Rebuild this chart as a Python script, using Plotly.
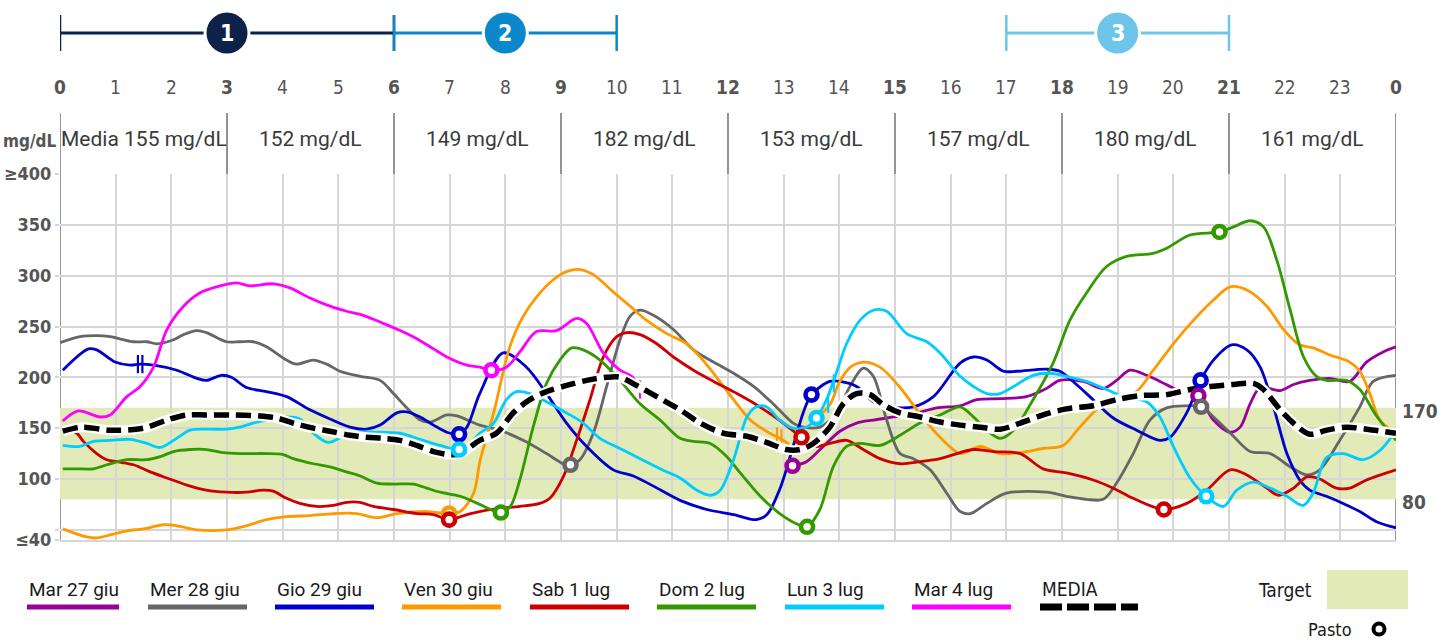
import plotly.graph_objects as go

# ---------------- data ----------------
hour_labels = ["0", "1", "2", "3", "4", "5", "6", "7", "8", "9", "10", "11", "12",
               "13", "14", "15", "16", "17", "18", "19", "20", "21", "22", "23", "0"]
block_labels = ["Media 155 mg/dL", "152 mg/dL", "149 mg/dL", "182 mg/dL",
                "153 mg/dL", "157 mg/dL", "180 mg/dL", "161 mg/dL"]
ytick_vals = [40, 50, 100, 150, 200, 250, 300, 350, 400]
ytick_text = ["≤40", "", "100", "150", "200", "250", "300", "350", "≥400"]
target_low, target_high = 80, 170

period_labels = ["1", "2", "3"]
period_start = [0, 6, 17]
period_end = [6, 10, 21]
period_mid = [3, 8, 19]
period_colors = ["#0c2248", "#0b88cb", "#6dc5ea"]

series_names = ["Mar 27 giu", "Mer 28 giu", "Gio 29 giu", "Ven 30 giu",
                "Sab 1 lug", "Dom 2 lug", "Lun 3 lug", "Mar 4 lug"]
series_colors = ["#990099", "#666666", "#0000cc", "#ff9900",
                 "#cc0000", "#339900", "#00ccff", "#ff00ff"]

mar27_h = [13.16, 13.41, 13.71, 14.01, 14.31, 14.61, 14.97, 15.33, 15.75, 16.17, 16.47, 16.89,
           17.36, 17.72, 17.96, 18.38, 18.74, 18.98, 19.22, 19.52, 19.76, 20.06, 20.3, 20.45,
           20.72, 21.02, 21.2, 21.38, 21.56, 21.92, 22.16, 22.45, 22.81, 23.17, 23.47, 23.77, 24.0]
mar27_v = [113, 117, 132, 147, 155, 158, 161, 164, 170, 172, 178, 179,
           181, 189, 197, 196, 189, 197, 207, 202, 196, 188, 185, 182,
           158, 146, 151, 174, 190, 187, 193, 197, 199, 196, 215, 225, 230]

mer28_h = [0.0, 0.36, 0.66, 0.9, 1.32, 1.56, 1.74, 2.04, 2.22, 2.46, 2.63, 2.99, 3.23, 3.47,
           3.71, 4.07, 4.25, 4.55, 4.79, 5.03, 5.39, 5.75, 5.99, 6.23, 6.47, 6.65, 6.95, 7.13,
           7.54, 7.9, 8.32, 8.74, 9.04, 9.17, 9.34, 9.58, 9.82, 10.06, 10.24, 10.42, 10.66,
           11.02, 11.38, 11.74, 12.1, 12.46, 12.81, 13.17, 13.35, 13.65, 13.95, 14.19, 14.43,
           14.61, 14.85, 15.09, 15.33, 15.63, 15.93, 16.17, 16.35, 16.65, 17.0, 17.72, 18.08,
           18.44, 18.74, 18.98, 19.28, 19.58, 19.88, 20.24, 20.5, 20.78, 21.08, 21.38, 21.74,
           22.1, 22.4, 22.63, 22.99, 23.35, 23.59, 24.0]
mer28_v = [234, 240, 241, 240, 235, 235, 233, 237, 242, 246, 244, 235, 235, 235,
           230, 217, 213, 217, 213, 206, 201, 197, 184, 170, 158, 156, 163, 162,
           153, 148, 138, 125, 115, 114, 119, 145, 191, 237, 260, 266, 261,
           247, 227, 215, 204, 191, 174, 155, 151, 151, 165, 191, 209,
           201, 158, 125, 120, 109, 86, 68, 66, 76, 86, 87, 83,
           80, 80, 96, 125, 158, 170, 172, 171, 158, 142, 127, 125,
           112, 104, 109, 138, 171, 196, 202]

gio29_h = [0.05, 0.51, 0.66, 0.99, 1.26, 1.44, 1.68, 2.1, 2.46, 2.63, 2.9, 3.08, 3.35, 3.71,
           4.07, 4.49, 4.85, 5.21, 5.51, 5.75, 6.05, 6.23, 6.47, 6.71, 6.95, 7.17, 7.31, 7.54,
           7.96, 8.38, 8.74, 9.1, 9.46, 9.94, 10.3, 10.66, 11.14, 11.62, 12.1, 12.51, 12.7,
           12.93, 13.17, 13.35, 13.5, 13.83, 14.01, 14.31, 14.61, 14.91, 15.33, 15.69, 16.17,
           16.41, 16.65, 16.95, 17.19, 17.72, 17.96, 18.26, 18.56, 18.92, 19.34, 19.76, 19.94,
           20.24, 20.49, 20.72, 21.05, 21.32, 21.56, 21.8, 22.04, 22.27, 22.45, 22.75, 23.05,
           23.35, 23.65, 24.0]
gio29_v = [207, 228, 227, 215, 212, 213, 212, 207, 199, 197, 202, 200, 190, 186,
           181, 168, 159, 151, 149, 153, 165, 166, 161, 153, 146, 144, 151, 184,
           224, 210, 184, 155, 132, 109, 103, 93, 79, 70, 65, 60, 65,
           90, 132, 165, 183, 196, 196, 191, 176, 171, 171, 181, 214,
           220, 217, 206, 206, 208, 206, 193, 178, 160, 148, 138, 141,
           165, 197, 217, 232, 227, 210, 171, 125, 99, 89, 83, 76,
           68, 58, 52]

ven30_a_h = [0.05, 0.48, 0.66, 0.9, 1.2, 1.5, 1.86, 2.1, 2.46, 2.99, 3.35, 3.71, 4.07, 4.49,
             4.91, 5.33, 5.69, 6.05, 6.59, 6.99, 7.19, 7.43, 7.55, 7.79, 8.08, 8.32, 8.56,
             8.86, 9.1, 9.34, 9.58, 9.94, 10.24, 10.54, 10.9, 11.26, 11.5, 11.74, 12.1, 12.4,
             12.75, 12.93, 13.1]
ven30_a_v = [51, 43, 42, 45, 49, 51, 55, 54, 50, 50, 54, 60, 63, 64,
             66, 66, 62, 66, 68, 66, 68, 86, 119, 165, 230, 260, 279,
             296, 304, 306, 301, 284, 270, 256, 243, 233, 220, 204, 178, 158,
             145, 140, 134]
ven30_b_h = [13.7, 13.85, 14.0, 14.2, 14.43, 14.73, 15.09, 15.45, 15.81, 16.17, 16.53, 16.89,
             17.25, 17.66, 18.02, 18.32, 18.68, 19.04, 19.34, 19.64, 20.0, 20.36, 20.72, 21.02,
             21.32, 21.68, 21.98, 22.27, 22.51, 22.81, 23.17, 23.35, 23.53, 23.71, 24.0]
ven30_b_v = [165, 175, 195, 210, 215, 210, 190, 164, 141, 125, 132, 125,
             126, 130, 133, 151, 171, 179, 186, 207, 233, 256, 276, 289,
             286, 270, 247, 232, 229, 222, 215, 206, 184, 158, 145]

sab1_h = [0.05, 0.3, 0.42, 0.66, 0.84, 1.02, 1.32, 1.62, 1.92, 2.28, 2.63, 2.99, 3.35, 3.65,
          3.83, 4.07, 4.31, 4.61, 4.91, 5.15, 5.39, 5.63, 5.99, 6.41, 6.71, 6.99, 7.31, 7.54,
          7.9, 8.26, 8.62, 8.8, 9.04, 9.28, 9.52, 9.76, 10.0, 10.18, 10.42, 10.72, 11.02,
          11.38, 11.74, 12.16, 12.51, 12.87, 13.32, 13.53, 13.83, 14.13, 14.43, 14.73, 15.09,
          15.45, 15.81, 16.17, 16.41, 16.77, 17.25, 17.66, 18.08, 18.56, 18.92, 19.28, 19.83,
          20.24, 20.6, 21.02, 21.32, 21.68, 21.89, 22.16, 22.4, 22.63, 22.93, 23.17, 23.47, 24.0]
sab1_v = [149, 145, 137, 125, 119, 117, 114, 107, 101, 94, 89, 87, 87, 89,
          88, 81, 76, 73, 74, 77, 77, 73, 70, 66, 65, 60, 65, 68,
          71, 73, 76, 81, 102, 138, 178, 220, 240, 244, 242, 233, 220,
          207, 196, 184, 173, 160, 141, 132, 135, 138, 129, 120, 115,
          117, 120, 126, 129, 127, 125, 110, 106, 99, 91, 81, 70,
          76, 89, 109, 104, 91, 84, 91, 102, 100, 91, 91, 99, 109]

dom2_h = [0.05, 0.3, 0.6, 0.84, 1.2, 1.56, 1.8, 2.04, 2.34, 2.63, 2.93, 3.23, 3.71, 4.01,
          4.19, 4.55, 4.85, 5.15, 5.39, 5.69, 5.99, 6.35, 6.59, 6.83, 7.19, 7.54, 7.92, 8.09,
          8.26, 8.5, 8.74, 8.98, 9.19, 9.4, 9.7, 10.06, 10.42, 10.78, 11.14, 11.38, 11.68,
          11.98, 12.22, 12.58, 12.93, 13.23, 13.42, 13.65, 13.89, 14.13, 14.37, 14.73, 15.09,
          15.45, 15.81, 16.17, 16.41, 16.65, 16.89, 17.13, 17.48, 17.84, 18.14, 18.44, 18.8,
          19.16, 19.64, 19.88, 20.3, 20.83, 21.08, 21.38, 21.62, 21.86, 22.1, 22.34, 22.57,
          22.75, 23.11, 23.35, 23.65, 24.0]
dom2_v = [110, 110, 110, 114, 119, 119, 122, 127, 129, 129, 126, 125, 125, 124,
          120, 115, 112, 107, 103, 96, 95, 95, 91, 87, 83, 75, 67, 73,
          99, 151, 194, 217, 229, 227, 217, 197, 174, 158, 140, 137, 135,
          122, 106, 83, 66, 56, 53, 70, 112, 132, 135, 133, 143,
          155, 163, 171, 161, 148, 140, 148, 178, 214, 256, 283, 309,
          319, 322, 327, 340, 343, 348, 354, 348, 315, 266, 220, 201,
          197, 197, 188, 162, 138]

lun3_h = [0.05, 0.36, 0.6, 0.9, 1.26, 1.56, 1.8, 2.04, 2.34, 2.69, 2.99, 3.23, 3.47, 3.71,
          4.07, 4.31, 4.55, 4.82, 5.09, 5.39, 5.81, 6.11, 6.47, 6.83, 7.17, 7.37, 7.54, 7.79,
          8.02, 8.2, 8.44, 8.74, 9.1, 9.4, 9.7, 10.06, 10.42, 10.78, 11.14, 11.44, 11.68,
          11.86, 12.1, 12.34, 12.51, 12.69, 12.93, 13.17, 13.41, 13.59, 13.77, 13.95, 14.13,
          14.37, 14.61, 14.85, 15.21, 15.57, 15.81, 16.17, 16.41, 16.65, 16.89, 17.13, 17.48,
          17.78, 18.08, 18.44, 18.8, 19.16, 19.52, 19.76, 20.0, 20.3, 20.59, 20.9, 21.14,
          21.44, 21.74, 22.04, 22.33, 22.51, 22.75, 23.05, 23.41, 23.71, 24.0]
lun3_v = [133, 132, 137, 138, 139, 135, 131, 138, 148, 149, 149, 151, 155, 158,
          161, 159, 145, 136, 142, 146, 146, 145, 139, 133, 129, 135, 145, 155,
          178, 186, 184, 176, 165, 155, 140, 130, 120, 110, 101, 89, 84,
          89, 119, 161, 171, 171, 158, 150, 151, 160, 178, 205, 233,
          256, 266, 265, 243, 235, 224, 201, 191, 184, 184, 191, 202,
          204, 201, 196, 188, 180, 176, 161, 132, 101, 83, 73, 89,
          97, 91, 83, 74, 86, 121, 125, 119, 128, 148]

mar4_h = [0.05, 0.33, 0.72, 0.9, 1.2, 1.44, 1.68, 1.92, 2.22, 2.51, 2.81, 3.17, 3.41, 3.83,
          4.13, 4.49, 4.85, 5.15, 5.45, 5.81, 6.11, 6.41, 6.71, 6.95, 7.31, 7.54, 7.75, 8.02,
          8.26, 8.56, 8.92, 9.28, 9.46, 9.76, 10.06, 10.27, 10.4]
mar4_v = [157, 167, 161, 163, 181, 191, 210, 247, 270, 283, 289, 293, 290, 292,
          288, 278, 270, 265, 261, 253, 246, 238, 228, 220, 212, 210, 207, 210,
          225, 245, 246, 258, 253, 224, 207, 201, 190]

media_h = [0.05, 0.4, 0.9, 1.5, 1.92, 2.28, 2.63, 3.11, 3.59, 3.89, 4.19, 4.55, 4.85, 5.21,
           5.51, 5.81, 6.11, 6.41, 6.71, 7.01, 7.19, 7.54, 7.84, 8.14, 8.44, 8.74, 9.1, 9.46,
           9.82, 10.06, 10.36, 10.72, 11.14, 11.5, 11.92, 12.34, 12.69, 13.05, 13.29, 13.53,
           13.83, 14.07, 14.31, 14.55, 14.79, 15.09, 15.45, 15.81, 16.17, 16.53, 16.89, 17.25,
           17.66, 18.08, 18.56, 18.98, 19.4, 19.88, 20.3, 20.66, 21.08, 21.44, 21.62, 21.92,
           22.22, 22.45, 22.75, 23.11, 23.47, 24.0]
media_v = [147, 151, 148, 150, 158, 163, 163, 163, 162, 160, 155, 150, 147, 143,
           141, 140, 138, 133, 127, 124, 125, 138, 145, 165, 178, 186, 192, 197,
           200, 200, 192, 181, 168, 155, 145, 142, 136, 129, 129, 135,
           151, 174, 184, 183, 173, 165, 161, 156, 153, 151, 149, 155,
           163, 169, 172, 178, 182, 183, 188, 191, 193, 194, 188, 168,
           152, 144, 148, 151, 149, 145]

# meals (Pasto) per day
mar27_meal_h, mar27_meal_v = [13.16, 20.45], [113, 182]
mer28_meal_h, mer28_meal_v = [9.17, 20.5], [114, 171]
gio29_meal_h, gio29_meal_v = [7.17, 13.5, 20.49], [144, 183, 197]
ven30_meal_h, ven30_meal_v = [6.99], [66]
sab1_meal_h, sab1_meal_v = [6.99, 13.32, 19.83], [60, 141, 70]
dom2_meal_h, dom2_meal_v = [7.92, 13.42, 20.83], [67, 53, 343]
lun3_meal_h, lun3_meal_v = [7.17, 13.59, 20.59], [129, 160, 83]
mar4_meal_h, mar4_meal_v = [7.75], [207]

# sensor gap marks (||)
gap_h = [1.40, 1.48, 12.88, 12.96, 13.8, 13.9, 10.42]
gap_v = [213, 213, 142, 140, 174, 194, 188]
gap_colors = ["#0000cc", "#0000cc", "#ff9900", "#ff9900", "#00ccff", "#00ccff", "#ff00ff"]

# ---------------- geometry helpers ----------------
W, H = 1442, 641
ML, MR, MT, MB = 60, 46, 174, 101
PW, PH = W - ML - MR, H - MT - MB


def yp(px):
    return (H - MB - px) / PH


def xp(px):
    return (px - ML) / PW


FN = "Liberation Sans Narrow, DejaVu Sans Condensed, sans-serif"
FR = "Roboto, Liberation Sans, sans-serif"
GRAY_TXT = "#555555"

fig = go.Figure()

# target band
fig.add_shape(type="rect", xref="x", yref="y", x0=0, x1=24, y0=target_low, y1=target_high,
              fillcolor="#e2eab8", line_width=0, layer="below")

# dark 3-hour separators
for h in range(0, 25, 3):
    fig.add_shape(type="line", xref="x", yref="paper", x0=h, x1=h, y0=0, y1=yp(113),
                  line=dict(color="#7a7a7a", width=1.6), layer="between")

# day lines
day_data = [
    (mar27_h, mar27_v), (mer28_h, mer28_v), (gio29_h, gio29_v), (ven30_a_h, ven30_a_v),
    (sab1_h, sab1_v), (dom2_h, dom2_v), (lun3_h, lun3_v), (mar4_h, mar4_v),
]
LW = 2.8
for i, (hh, vv) in enumerate(day_data):
    fig.add_trace(go.Scatter(x=hh, y=vv, mode="lines", name=series_names[i],
                             line=dict(color=series_colors[i], width=LW, shape="spline", smoothing=0.9),
                             hoverinfo="skip", showlegend=False))
    if i == 3:
        fig.add_trace(go.Scatter(x=ven30_b_h, y=ven30_b_v, mode="lines", name=series_names[i],
                                 line=dict(color=series_colors[i], width=LW, shape="spline", smoothing=0.9),
                                 hoverinfo="skip", showlegend=False))

# gap marks
fig.add_trace(go.Scatter(x=gap_h, y=gap_v, mode="markers", hoverinfo="skip", showlegend=False,
                         marker=dict(symbol="line-ns", size=13, color=gap_colors,
                                     line=dict(color=gap_colors, width=2.2))))

# media line (white halo + black dashes)
fig.add_trace(go.Scatter(x=media_h, y=media_v, mode="lines", hoverinfo="skip", showlegend=False,
                         line=dict(color="white", width=10, shape="spline", smoothing=0.9)))
fig.add_trace(go.Scatter(x=media_h, y=media_v, mode="lines", name="MEDIA", hoverinfo="skip",
                         showlegend=False,
                         line=dict(color="black", width=5.5, shape="spline", smoothing=0.9,
                                   dash="15px,7px")))

# meals
meal_data = [
    (mar27_meal_h, mar27_meal_v), (mer28_meal_h, mer28_meal_v), (gio29_meal_h, gio29_meal_v),
    (ven30_meal_h, ven30_meal_v), (sab1_meal_h, sab1_meal_v), (dom2_meal_h, dom2_meal_v),
    (lun3_meal_h, lun3_meal_v), (mar4_meal_h, mar4_meal_v),
]
for i, (hh, vv) in enumerate(meal_data):
    fig.add_trace(go.Scatter(x=hh, y=vv, mode="markers", hoverinfo="skip", showlegend=False,
                             marker=dict(symbol="circle", size=12, color="white",
                                         line=dict(color=series_colors[i], width=4.6))))

annotations = []

# hour labels
for i, lab in enumerate(hour_labels):
    annotations.append(dict(x=i, y=yp(87), xref="x", yref="paper", text=lab, showarrow=False,
                            xanchor="center", yanchor="middle",
                            font=dict(family=FN, size=19, color=GRAY_TXT,
                                      weight="bold" if i % 3 == 0 else "normal")))

# block averages
for k, lab in enumerate(block_labels):
    annotations.append(dict(x=3 * k + 1.5, y=yp(139), xref="x", yref="paper", text=lab,
                            showarrow=False, xanchor="center", yanchor="middle",
                            font=dict(family=FR, size=21, color="#3a3a3a")))
annotations.append(dict(x=xp(58), y=yp(141), xref="paper", yref="paper", text="mg/dL",
                        showarrow=False, xanchor="right", yanchor="middle",
                        font=dict(family=FN, size=17, color=GRAY_TXT, weight="bold")))

# target labels on the right
for val in (target_high, target_low):
    annotations.append(dict(x=xp(1400), y=val, xref="paper", yref="y", text=str(val),
                            showarrow=False, xanchor="left", yanchor="middle", yshift=-3,
                            font=dict(family=FN, size=19, color=GRAY_TXT, weight="bold")))

# periods on top
for k in range(len(period_labels)):
    c = period_colors[k]
    fig.add_shape(type="line", xref="x", yref="paper", x0=period_start[k], x1=period_end[k],
                  y0=yp(33), y1=yp(33), line=dict(color=c, width=3))
    for xe in (period_start[k], period_end[k]):
        fig.add_shape(type="line", xref="x", yref="paper", x0=xe, x1=xe, y0=yp(15), y1=yp(51),
                      line=dict(color=c, width=2.5))
    fig.add_shape(type="circle", xref="x", yref="paper", xsizemode="pixel", ysizemode="pixel",
                  xanchor=period_mid[k], yanchor=yp(33), x0=-22, x1=22, y0=-22, y1=22,
                  fillcolor=c, line=dict(color="white", width=3))
    annotations.append(dict(x=period_mid[k], y=yp(33), xref="x", yref="paper",
                            text=period_labels[k], showarrow=False, xanchor="center",
                            yanchor="middle",
                            font=dict(family=FN, size=23, color="white", weight="bold")))

# custom legend
leg_x = [27, 148, 275, 402, 530, 657, 785, 912]
for i, nm in enumerate(series_names):
    w = 92 if i == 0 else 99
    fig.add_shape(type="line", xref="paper", yref="paper", x0=xp(leg_x[i]), x1=xp(leg_x[i] + w),
                  y0=yp(607), y1=yp(607), line=dict(color=series_colors[i], width=5))
    annotations.append(dict(x=xp(leg_x[i]), y=yp(589), xref="paper", yref="paper", text=nm,
                            showarrow=False, xanchor="left", yanchor="middle",
                            font=dict(family=FR, size=19, color="#1a1a1a")))
fig.add_shape(type="line", xref="paper", yref="paper", x0=xp(1040), x1=xp(1138),
              y0=yp(607), y1=yp(607), line=dict(color="black", width=7, dash="22px,5px"))
annotations.append(dict(x=xp(1040), y=yp(589), xref="paper", yref="paper", text="MEDIA",
                        showarrow=False, xanchor="left", yanchor="middle",
                        font=dict(family=FN, size=19, color="#1a1a1a")))
fig.add_shape(type="rect", xref="paper", yref="paper", x0=xp(1327), x1=xp(1408),
              y0=yp(570), y1=yp(609), fillcolor="#e2eab8", line_width=0)
annotations.append(dict(x=xp(1314), y=yp(590), xref="paper", yref="paper", text="Target",
                        showarrow=False, xanchor="right", yanchor="middle",
                        font=dict(family=FN, size=19, color="#1a1a1a")))
annotations.append(dict(x=xp(1354), y=yp(629), xref="paper", yref="paper", text="Pasto",
                        showarrow=False, xanchor="right", yanchor="middle",
                        font=dict(family=FN, size=18, color="#1a1a1a")))
fig.add_shape(type="circle", xref="paper", yref="paper", xsizemode="pixel", ysizemode="pixel",
              xanchor=xp(1379), yanchor=yp(629), x0=-5.5, x1=5.5, y0=-5.5, y1=5.5,
              fillcolor="white", line=dict(color="black", width=4))

fig.update_layout(
    width=W, height=H,
    margin=dict(l=ML, r=MR, t=MT, b=MB, pad=0, autoexpand=False),
    plot_bgcolor="white", paper_bgcolor="white",
    showlegend=False,
    annotations=annotations,
    xaxis=dict(range=[0, 24], tick0=0, dtick=1, showgrid=True, gridcolor="#d6d6d6", gridwidth=2,
               showticklabels=False, zeroline=False, showline=True, linecolor="#d6d6d6",
               linewidth=2, ticks="", fixedrange=True, automargin=False),
    yaxis=dict(range=[40, 400], tickmode="array", tickvals=ytick_vals, ticktext=ytick_text,
               showgrid=True, gridcolor="#d6d6d6", gridwidth=2, zeroline=False, showline=False,
               ticks="outside", ticklen=4, tickcolor="#d6d6d6", tickwidth=2,
               tickfont=dict(family=FN, size=18, color=GRAY_TXT, weight="bold"),
               fixedrange=True, automargin=False),
)

fig.write_html("out.html", config={"displayModeBar": False},
               post_script="document.body.style.margin='0px';")
